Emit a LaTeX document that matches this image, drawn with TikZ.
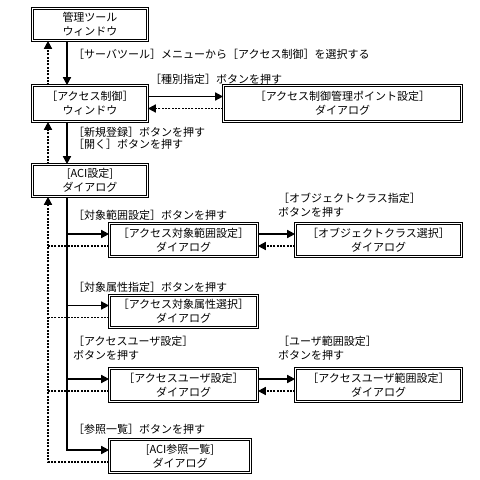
\documentclass[tikz,border=0pt]{standalone}
\usepackage{fontspec}
\setmainfont{Noto Sans CJK JP}
\usetikzlibrary{arrows.meta}
\tikzset{
  dlg/.style={draw, double, double distance=1.2pt, line width=0.7pt, align=center, inner sep=1pt},
  lbl/.style={anchor=west, inner sep=0pt, align=left},
  go/.style={line width=1.6pt, -{Triangle[length=8pt,width=8pt]}},
  back/.style={line width=1.6pt, dash pattern=on 2pt off 1.3pt, -{Triangle[length=8pt,width=8pt]}},
  back plain/.style={line width=1.6pt, dash pattern=on 2pt off 1.3pt},
  every node/.style={font=\fontsize{11pt}{14pt}\selectfont}
}
\begin{document}
\begin{tikzpicture}[x=1pt,y=-1pt]
  \useasboundingbox (0,0) rectangle (480,480);
  % windows and dialogs
  \node[dlg, minimum width=115pt, minimum height=32pt] (tool) at (90,24.5) {管理ツール\\ウィンドウ};
  \node[dlg, minimum width=115pt, minimum height=36pt] (acc) at (90,103.5) {［アクセス制御］\\ウィンドウ};
  \node[dlg, minimum width=238pt, minimum height=36pt] (point) at (342.5,103.5) {［アクセス制御管理ポイント設定］\\ダイアログ};
  \node[dlg, minimum width=115pt, minimum height=32pt] (aci) at (90,180.5) {[ACI設定]\\ダイアログ};
  \node[dlg, minimum width=148pt, minimum height=33pt] (range) at (183.5,240) {［アクセス対象範囲設定］\\ダイアログ};
  \node[dlg, minimum width=166pt, minimum height=33pt] (oclass) at (378.5,240) {［オブジェクトクラス選択］\\ダイアログ};
  \node[dlg, minimum width=148pt, minimum height=32pt] (attr) at (183.5,311.5) {［アクセス対象属性選択］\\ダイアログ};
  \node[dlg, minimum width=148pt, minimum height=33pt] (user) at (183.5,385) {［アクセスユーザ設定］\\ダイアログ};
  \node[dlg, minimum width=166pt, minimum height=33pt] (urange) at (378.5,385) {［アクセスユーザ範囲設定］\\ダイアログ};
  \node[dlg, minimum width=141pt, minimum height=33pt] (ref) at (180,456) {[ACI参照一覧]\\ダイアログ};
  % two vertical lines on the left
  \coordinate (trunk) at (67,0);
  \coordinate (ret) at (48,0);
  % labels
  \node[lbl] (l1) at (73,54) {［サーバツール］メニューから［アクセス制御］を選択する};
  \node[lbl] (l2) at (150,79) {［種別指定］ボタンを押す};
  \node[lbl, font=\fontsize{11pt}{11.5pt}\selectfont] (l3) at (73,138.5) {［新規登録］ボタンを押す\\［開く］ボタンを押す};
  \node[lbl] (l4) at (278,205) {［オブジェクトクラス指定］\\ボタンを押す};
  \node[lbl] (l5) at (73,215) {［対象範囲設定］ボタンを押す};
  \node[lbl] (l6) at (73,287) {［対象属性指定］ボタンを押す};
  \node[lbl] (l7) at (73,348.5) {［アクセスユーザ設定］\\ボタンを押す};
  \node[lbl] (l8) at (278,348.5) {［ユーザ範囲設定］\\ボタンを押す};
  \node[lbl] (l9) at (73,429) {［参照一覧］ボタンを押す};
  % going forward
  \draw[go] (tool.south -| trunk) -- (acc.north -| trunk);
  \draw[go] (acc.south -| trunk) -- (aci.north -| trunk);
  \draw[go] ([yshift=7pt]acc.east) -- ([yshift=7pt]acc.east -| point.west);
  \draw[go] (aci.south -| trunk) |- ([yshift=6pt]ref.west);
  \draw[go] ([yshift=6pt]range.west -| trunk) -- ([yshift=6pt]range.west);
  \draw[go] ([yshift=6pt]attr.west -| trunk) -- ([yshift=6pt]attr.west);
  \draw[go] ([yshift=6pt]user.west -| trunk) -- ([yshift=6pt]user.west);
  \draw[go] ([yshift=6pt]range.east) -- ([yshift=6pt]range.east -| oclass.west);
  \draw[go] ([yshift=6pt]user.east) -- ([yshift=6pt]user.east -| urange.west);
  % going back
  \draw[back] (acc.north -| ret) -- (tool.south -| ret);
  \draw[back] (aci.north -| ret) -- (acc.south -| ret);
  \draw[back] ([yshift=-5pt]point.west) -- ([yshift=-5pt]point.west -| acc.east);
  \draw[back] ([yshift=-6pt]ref.west) -| (aci.south -| ret);
  \draw[back plain] ([yshift=-6pt]range.west) -- ([yshift=-6pt]range.west -| ret);
  \draw[back plain] ([yshift=-6pt]attr.west) -- ([yshift=-6pt]attr.west -| ret);
  \draw[back plain] ([yshift=-6pt]user.west) -- ([yshift=-6pt]user.west -| ret);
  \draw[back] ([yshift=-6pt]oclass.west) -- ([yshift=-6pt]oclass.west -| range.east);
  \draw[back] ([yshift=-6pt]urange.west) -- ([yshift=-6pt]urange.west -| user.east);
\end{tikzpicture}
\end{document}
